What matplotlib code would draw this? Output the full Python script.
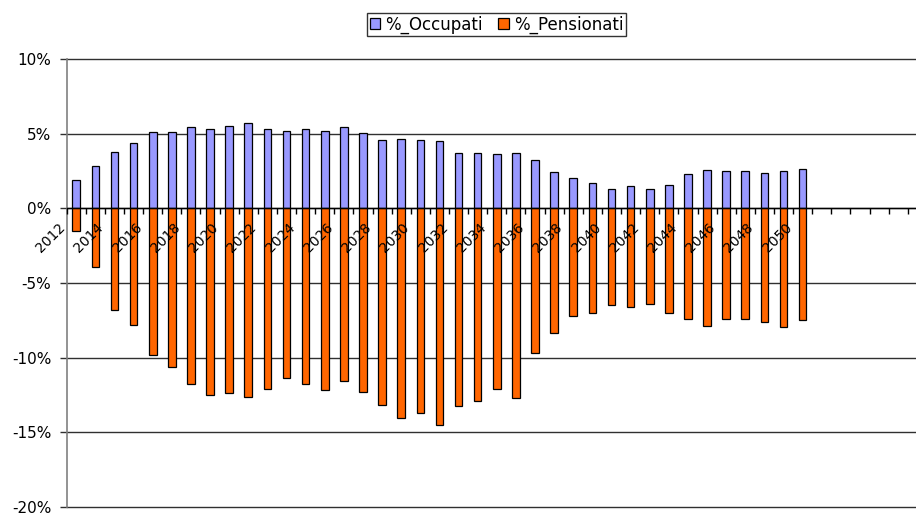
import numpy as np
import matplotlib
matplotlib.use("Agg")
import matplotlib.pyplot as plt
from matplotlib.transforms import ScaledTranslation

plt.rcParams['font.family'] = ['DejaVu Sans']
plt.rcParams['font.size'] = 10

# data (percent)
years = list(range(2012, 2051))
occupati = [1.92, 2.81, 3.77, 4.35, 5.13, 5.11, 5.45, 5.29, 5.54, 5.69,
            5.29, 5.20, 5.29, 5.20, 5.42, 5.02, 4.58, 4.67, 4.58, 4.49,
            3.73, 3.68, 3.62, 3.73, 3.21, 2.41, 2.01, 1.70, 1.32, 1.47,
            1.27, 1.54, 2.28, 2.54, 2.48, 2.48, 2.34, 2.48, 2.61]
pensionati = [-1.53, -3.93, -6.84, -7.82, -9.80, -10.62, -11.73, -12.47, -12.36, -12.64,
              -12.11, -11.36, -11.76, -12.13, -11.56, -12.27, -13.18, -14.04, -13.73, -14.51,
              -13.20, -12.87, -12.07, -12.69, -9.67, -8.33, -7.18, -7.04, -6.47, -6.58,
              -6.42, -7.00, -7.44, -7.87, -7.38, -7.40, -7.60, -7.93, -7.49]
y_ticks = [10, 5, 0, -5, -10, -15, -20]
y_labels = ['10%', '5%', '0%', '-5%', '-10%', '-15%', '-20%']

fig = plt.figure(figsize=(9.16, 5.13), dpi=100)
ax = fig.add_axes([0.0728, 0.0115, 0.9272, 0.8737])

x = np.arange(len(years))
ax.bar(x, occupati, width=0.4, color='#9999FF', edgecolor='black', linewidth=0.9,
       label='%_Occupati', zorder=1)
ax.bar(x, pensionati, width=0.4, color='#FF6600', edgecolor='black', linewidth=0.9,
       label='%_Pensionati', zorder=1)

ax.set_xlim(-0.5, 43.93)
ax.set_ylim(-20, 10)

# grid below the bars, category labels above them
ax.set_axisbelow(True)
ax.xaxis.set_zorder(3)

# y axis
ax.set_yticks(y_ticks)
ax.set_yticklabels(y_labels, fontsize=11)
ax.yaxis.grid(True, color='#303030', linewidth=1.0)
for gl in ax.yaxis.get_gridlines():
    gl.set_clip_on(False)
ax.tick_params(axis='y', length=5, width=1, color='#303030', pad=6)

# category axis at 0
ax.spines['bottom'].set_position(('data', 0))
ax.spines['bottom'].set_zorder(4)
ax.spines['bottom'].set_linewidth(1)
ax.spines['left'].set_color('#808080')
ax.spines['left'].set_linewidth(1.2)
ax.spines['top'].set_visible(False)
ax.spines['right'].set_visible(False)

ax.set_xticks(np.arange(-0.5, 44, 1), minor=True)
ax.tick_params(axis='x', which='minor', length=4, width=1, direction='out')
ax.set_xticks(x)
ax.set_xticklabels([str(y) if (y % 2 == 0) else '' for y in years], fontsize=10)
ax.tick_params(axis='x', which='major', length=0, pad=12)
offset = ScaledTranslation(-0.13, 0, fig.dpi_scale_trans)
for lab in ax.get_xticklabels():
    lab.set_rotation(45)
    lab.set_ha('right')
    lab.set_va('center')
    lab.set_rotation_mode('anchor')
    lab.set_transform(lab.get_transform() + offset)

leg = fig.legend(loc='center', bbox_to_anchor=(0.542, 0.952), ncol=2, frameon=True,
                 fancybox=False, edgecolor='black', fontsize=12,
                 handlelength=0.65, handleheight=0.65,
                 handletextpad=0.3, columnspacing=0.9, borderpad=0.15, borderaxespad=0)
leg.get_frame().set_linewidth(1)

fig.savefig('out.png', dpi=100)
